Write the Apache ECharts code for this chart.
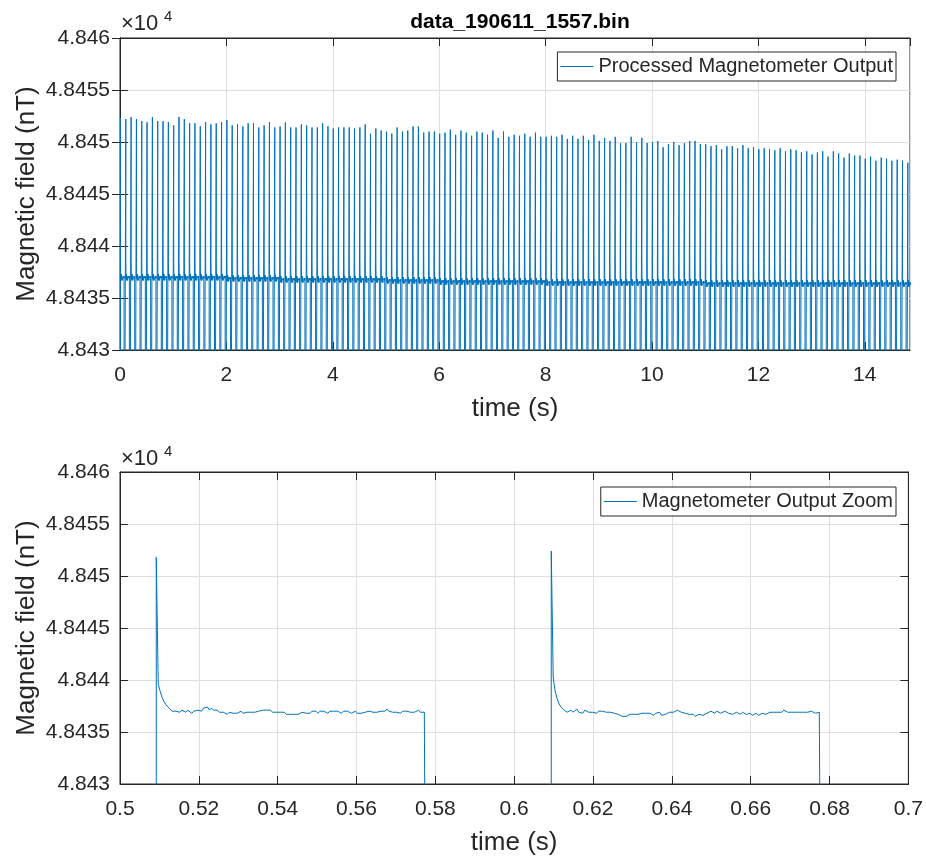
<!DOCTYPE html>
<html lang="en">
<head>
	<meta charset="UTF-8">
	<title>data_190611_1557</title>
	<style>
		html, body { margin: 0; padding: 0; background: #fff; }
		#chart { width: 926px; height: 859px; }
	</style>
</head>
<body>
	<div id="chart"></div>
	<script src="https://cdn.jsdelivr.net/npm/echarts@6/dist/echarts.min.js"></script>
	<script>

		// y tick labels (values are in nT, shown as x10^4)
		var yTickLabels = ['4.843', '4.8435', '4.844', '4.8445', '4.845', '4.8455', '4.846'];

		// peak of every pulse in the full record (nT)
		var topPeaks = [
			48452.3, 48452.2, 48452.4, 48452.2, 48452.0, 48451.9, 48452.4, 48452.0, 48452.0, 48451.9,
			48451.6, 48452.4, 48452.2, 48451.8, 48451.8, 48451.5, 48451.9, 48451.7, 48451.8, 48451.9,
			48452.1, 48451.6, 48451.7, 48451.5, 48451.8, 48451.8, 48451.4, 48451.6, 48451.9, 48451.4,
			48451.5, 48451.9, 48451.4, 48451.4, 48451.7, 48451.6, 48451.4, 48451.4, 48451.8, 48451.5,
			48451.3, 48451.4, 48451.4, 48451.4, 48451.3, 48451.4, 48451.7, 48450.8, 48451.3, 48451.1,
			48451.0, 48450.8, 48451.4, 48451.0, 48451.1, 48451.5, 48451.5, 48450.9, 48451.0, 48451.0,
			48450.8, 48450.9, 48451.2, 48450.7, 48451.1, 48450.9, 48450.6, 48451.0, 48450.9, 48450.7,
			48451.1, 48450.4, 48451.0, 48450.5, 48450.7, 48450.6, 48450.8, 48450.5, 48450.9, 48450.5,
			48450.5, 48450.6, 48450.5, 48450.7, 48450.3, 48450.6, 48450.3, 48450.6, 48450.2, 48450.7,
			48450.1, 48450.4, 48450.1, 48450.5, 48449.9, 48449.9, 48450.5, 48450.0, 48450.4, 48449.9,
			48450.0, 48450.1, 48449.5, 48449.8, 48450.0, 48449.7, 48449.9, 48450.1, 48450.1, 48449.8,
			48449.8, 48449.6, 48449.7, 48449.3, 48449.6, 48449.6, 48449.4, 48449.7, 48449.4, 48449.5,
			48449.3, 48449.4, 48449.3, 48449.2, 48449.4, 48449.1, 48449.3, 48449.2, 48449.0, 48449.1,
			48448.8, 48449.0, 48449.1, 48448.6, 48449.1, 48448.9, 48448.5, 48448.9, 48448.7, 48448.7,
			48448.4, 48448.6, 48448.2, 48448.5, 48448.4, 48448.2, 48448.3, 48448.2, 48448.0
		];

		// flat level after the spike, per second of record (nT)
		var plateauBySecond = [
			48437.0, 48437.0, 48436.9, 48436.8, 48436.8, 48436.7, 48436.6, 48436.6,
			48436.5, 48436.5, 48436.5, 48436.4, 48436.4, 48436.4, 48436.4
		];

		var pulseStart = 0.0092;   // s, first pulse
		var pulsePeriod = 0.1;     // s
		var sampleStep = 0.0005;   // s
		var offLevel = 48400;      // below the axis between pulses

		// zoomed pulses (nT)
		var zoomStartA = 0.5092;
		var zoomA = [
			48451.8, 48439.6, 48438.9, 48438.3, 48437.9, 48437.6, 48437.4, 48437.2, 48437.0, 48437.1,
			48437.0, 48437.1, 48436.9, 48437.1, 48437.0, 48436.9, 48437.1, 48437.0, 48436.8, 48437.0,
			48436.9, 48437.1, 48437.2, 48437.0, 48437.3, 48437.2, 48437.4, 48437.1, 48437.3, 48437.1,
			48437.0, 48437.1, 48436.9, 48436.8, 48436.9, 48436.8, 48436.7, 48436.9, 48436.8, 48436.8,
			48436.9, 48436.8, 48436.9, 48437.0, 48436.8, 48436.7, 48436.9, 48436.8, 48436.9, 48437.0,
			48436.9, 48437.0, 48437.0, 48436.9, 48437.1, 48437.0, 48437.1, 48437.0, 48437.1, 48436.9,
			48437.0, 48436.9, 48436.8, 48436.9, 48436.8, 48436.9, 48436.7, 48436.8, 48436.7, 48436.6,
			48436.7, 48436.8, 48436.7, 48436.8, 48436.9, 48436.8, 48436.8, 48436.9, 48436.8, 48437.0,
			48436.9, 48437.0, 48436.8, 48437.0, 48436.9, 48437.0, 48436.9, 48436.8, 48437.0, 48436.9,
			48437.0, 48436.9, 48437.0, 48436.9, 48436.8, 48437.0, 48436.9, 48437.0, 48436.9, 48436.8,
			48436.9, 48437.0, 48436.8, 48436.9, 48436.8, 48436.9, 48436.9, 48436.8, 48437.0, 48436.9,
			48436.9, 48437.0, 48436.9, 48436.8, 48437.0, 48437.1, 48437.0, 48437.2, 48437.0, 48437.1,
			48436.9, 48437.0, 48436.9, 48437.0, 48436.8, 48437.0, 48436.9, 48437.0, 48437.1, 48436.9,
			48437.0, 48436.9, 48437.0, 48437.1, 48436.9, 48437.0, 48436.9, 48436.9
		];
		var zoomStartB = 0.6094;
		var zoomB = [
			48452.4, 48440.2, 48438.9, 48438.2, 48437.7, 48437.4, 48437.2, 48437.1, 48436.9, 48437.0,
			48437.1, 48436.9, 48437.0, 48437.2, 48436.9, 48437.0, 48436.8, 48437.1, 48437.0, 48436.9,
			48437.0, 48436.9, 48437.0, 48436.8, 48437.0, 48436.9, 48437.0, 48437.1, 48436.9, 48437.0,
			48436.9, 48437.0, 48436.8, 48436.9, 48436.7, 48436.6, 48436.5, 48436.6, 48436.5, 48436.6,
			48436.7, 48436.6, 48436.7, 48436.8, 48436.7, 48436.6, 48436.8, 48436.7, 48436.8, 48436.7,
			48436.8, 48436.7, 48436.6, 48436.8, 48436.7, 48436.9, 48436.6, 48436.5, 48436.7, 48436.8,
			48436.9, 48437.0, 48436.9, 48437.0, 48437.1, 48437.2, 48436.9, 48437.0, 48436.8, 48436.9,
			48436.7, 48436.6, 48436.7, 48436.5, 48436.6, 48436.7, 48436.8, 48436.6, 48436.7, 48436.8,
			48436.9, 48437.0, 48436.9, 48436.8, 48437.0, 48436.9, 48436.8, 48436.9, 48437.0, 48436.9,
			48436.8, 48436.9, 48436.7, 48436.8, 48436.9, 48436.8, 48436.7, 48436.9, 48436.8, 48436.7,
			48436.7, 48436.8, 48436.6, 48436.7, 48436.8, 48436.6, 48436.7, 48436.8, 48436.9, 48436.7,
			48436.8, 48436.9, 48436.8, 48436.9, 48436.8, 48436.9, 48437.0, 48436.9, 48437.1, 48437.2,
			48436.9, 48437.0, 48436.9, 48436.8, 48436.9, 48437.0, 48436.9, 48436.8, 48436.9, 48437.0,
			48436.9, 48436.9, 48437.0, 48436.9, 48436.8, 48436.9, 48436.9, 48436.8
		];
		var zoomRefLevel = 48437.0; // plateau of pulse A

		var chart = echarts.init(document.getElementById('chart'));

		function pulsePoints(out, t0, peak, shape, base) {
			out.push([t0, offLevel]);
			out.push([t0, peak]);
			for (var i = 1; i < shape.length; i++) {
				out.push([t0 + i * sampleStep, base + shape[i]]);
			}
			out.push([t0 + (shape.length - 1) * sampleStep, offLevel]);
		}

		// full record: each pulse uses its own peak and plateau, shape of pulse A
		var topData = [];
		var shapeA = zoomA.map(function (v) { return v - zoomRefLevel; });
		for (var k = 0; k < topPeaks.length; k++) {
			var t0 = pulseStart + k * pulsePeriod;
			pulsePoints(topData, t0, topPeaks[k], shapeA, plateauBySecond[Math.floor(t0)]);
		}

		var zoomData = [];
		pulsePoints(zoomData, zoomStartA, zoomA[0], zoomA, 0);
		pulsePoints(zoomData, zoomStartB, zoomB[0], zoomB, 0);

		var ink = '#262626';
		var font = "'Liberation Sans', Arial, sans-serif";

		function yLabel(v) {
			var i = Math.round((v - 48430) / 5);
			return yTickLabels[i] || '';
		}

		function mainX(grid, min, max, interval, hideMax) {
			return {
				type: 'value', gridIndex: grid, position: 'bottom',
				min: min, max: max, interval: interval,
				name: 'time (s)', nameLocation: 'middle', nameGap: 46, nameMoveOverlap: false,
				nameTextStyle: { fontSize: 26, color: ink, fontFamily: font },
				axisLine: { show: true, lineStyle: { color: ink, width: 1 } },
				axisTick: { show: true, inside: true, length: 8, lineStyle: { color: ink } },
				axisLabel: { fontSize: 21, color: ink, margin: 15, fontFamily: font, showMaxLabel: !hideMax },
				splitLine: { show: true, lineStyle: { color: '#dedede', width: 1 } }
			};
		}
		function boxX(grid, min, max, interval) {
			return {
				type: 'value', gridIndex: grid, position: 'top',
				min: min, max: max, interval: interval,
				axisLine: { show: true, lineStyle: { color: ink } },
				axisTick: { show: true, inside: true, length: 8, lineStyle: { color: ink } },
				axisLabel: { show: false },
				splitLine: { show: false }
			};
		}
		function mainY(grid) {
			return {
				type: 'value', gridIndex: grid, position: 'left',
				min: 48430, max: 48460, interval: 5,
				name: 'Magnetic field (nT)', nameLocation: 'middle', nameGap: 80, nameMoveOverlap: false,
				nameTextStyle: { fontSize: 26, color: ink, fontFamily: font },
				axisLine: { show: true, lineStyle: { color: ink, width: 1 } },
				axisTick: { show: true, inside: true, length: 8, lineStyle: { color: ink } },
				axisLabel: { fontSize: 21, color: ink, margin: 10, fontFamily: font, formatter: yLabel },
				splitLine: { show: true, lineStyle: { color: '#dedede', width: 1 } }
			};
		}
		function boxY(grid) {
			return {
				type: 'value', gridIndex: grid, position: 'right',
				min: 48430, max: 48460, interval: 5,
				axisLine: { show: true, lineStyle: { color: ink } },
				axisTick: { show: true, inside: true, length: 8, lineStyle: { color: ink } },
				axisLabel: { show: false },
				splitLine: { show: false }
			};
		}
		function legendBox(name, top) {
			return {
				data: [name], right: 30, top: top, orient: 'horizontal',
				icon: 'rect', itemWidth: 33, itemHeight: 1, itemGap: 5,
				padding: [4, 3, 4, 3],
				borderColor: ink, borderWidth: 1, borderRadius: 0, backgroundColor: '#fff',
				selectedMode: false,
				textStyle: { fontSize: 20, color: ink, fontFamily: font, lineHeight: 21 }
			};
		}
		function lineSeries(name, xi, yi, data) {
			return {
				type: 'line', name: name, xAxisIndex: xi, yAxisIndex: yi, data: data,
				symbol: 'none', showSymbol: false, clip: true, animation: false,
				lineStyle: { color: '#0072BD', width: 1 }, itemStyle: { color: '#0072BD' }
			};
		}
		function expLabel(x, y) {
			return [
				{ type: 'text', x: x, y: y, style: { text: '×10', font: "22px 'Liberation Sans', Arial, sans-serif", fill: ink, verticalAlign: 'middle' } },
				{ type: 'text', x: x + 43, y: y - 7, style: { text: '4', font: "15px 'Liberation Sans', Arial, sans-serif", fill: ink, verticalAlign: 'middle' } }
			];
		}

		var option = {
			backgroundColor: '#fff',
			animation: false,
			textStyle: { fontFamily: font },
			title: {
				text: 'data_190611_1557.bin', left: 515, top: 7, textAlign: 'center',
				textStyle: { fontSize: 21, fontWeight: 'bold', color: '#000', fontFamily: font }
			},
			grid: [
				{ left: 120, top: 38, width: 790, height: 312, show: true, borderColor: ink, borderWidth: 1, backgroundColor: '#fff' },
				{ left: 120, top: 472, width: 790, height: 312, show: true, borderColor: ink, borderWidth: 1, backgroundColor: '#fff' }
			],
			xAxis: [
				mainX(0, 0, 14.85, 2, true),
				boxX(0, 0, 14.85, 2),
				mainX(1, 0.5, 0.7, 0.02, false),
				boxX(1, 0.5, 0.7, 0.02)
			],
			yAxis: [mainY(0), boxY(0), mainY(1), boxY(1)],
			legend: [
				legendBox('Processed Magnetometer Output', 52),
				legendBox('Magnetometer Output Zoom', 487)
			],
			graphic: expLabel(121, 24).concat(expLabel(121, 459)),
			series: [
				lineSeries('Processed Magnetometer Output', 0, 0, topData),
				lineSeries('Magnetometer Output Zoom', 2, 2, zoomData)
			]
		};

		chart.setOption(option);

	</script>
</body>
</html>
